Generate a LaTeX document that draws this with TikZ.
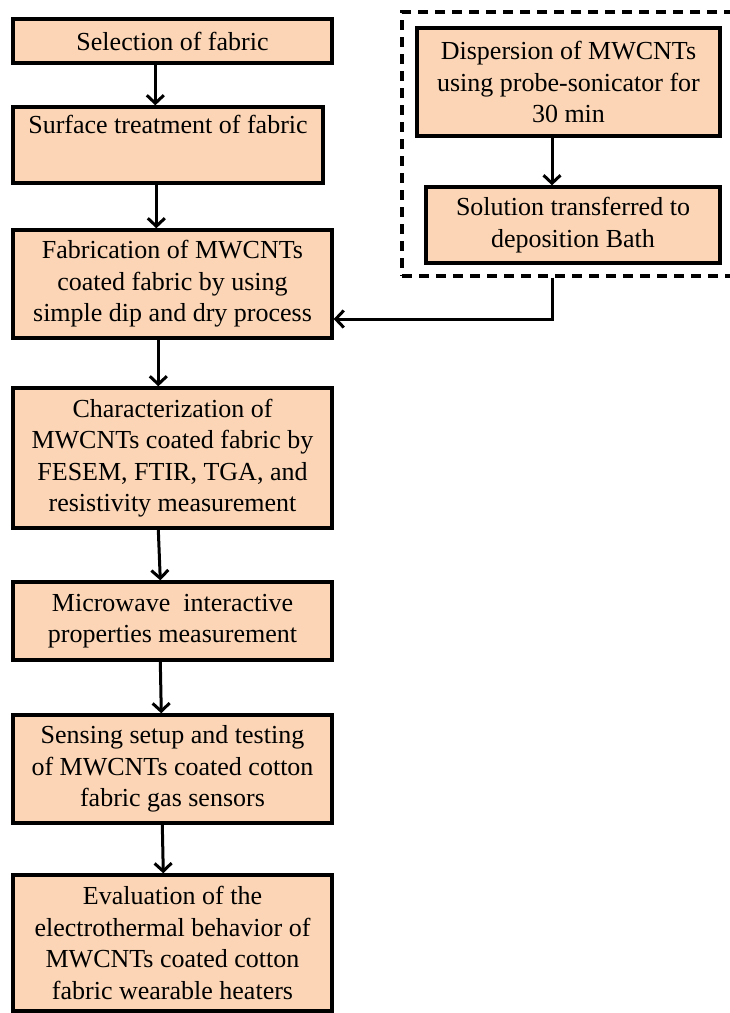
\documentclass[tikz,border=0pt]{standalone}
\usepackage{fontspec}
\setmainfont{Liberation Serif}
\usetikzlibrary{arrows.meta}
\definecolor{pesca}{HTML}{FBD5B5}
\tikzset{
  passo/.style={draw, line width=3.4pt, fill=pesca, align=center, inner sep=0pt,
    font=\fontsize{26}{31.5}\selectfont},
  freccia/.style={line width=3pt, -{Straight Barb[length=8pt,width=17pt]}},
  cornice/.style={draw, line width=3.2pt, dash pattern=on 10pt off 7pt},
}
\begin{document}
\begin{tikzpicture}[x=1pt,y=-1pt]
    \useasboundingbox (0,0) rectangle (730,1013);

    % Cornice tratteggiata della preparazione della soluzione
    \node[cornice, minimum width=340pt, minimum height=264pt] (cornice) at (572,144) {};

    % Colonna principale
    \node[passo, minimum width=319pt, minimum height=44pt] (s1) at (172.5,41) {Selection of fabric};
    \node[passo, minimum width=310pt, minimum height=76pt] (s2) at (168,145) {Surface treatment of fabric\\ \strut};
    \node[passo, minimum width=319pt, minimum height=108pt] (s3) at (172.5,284) {Fabrication of MWCNTs\\coated fabric by using\\simple dip and dry process};
    \node[passo, minimum width=319pt, minimum height=140pt] (s4) at (172.5,458) {Characterization of\\MWCNTs coated fabric by\\FESEM, FTIR, TGA, and\\resistivity measurement};
    \node[passo, minimum width=319pt, minimum height=78pt] (s5) at (172.5,621) {Microwave~ interactive\\properties measurement};
    \node[passo, minimum width=319pt, minimum height=108pt] (s6) at (172.5,769) {Sensing setup and testing\\of MWCNTs coated cotton\\fabric gas sensors};
    \node[passo, minimum width=319pt, minimum height=136pt] (s7) at (172.5,943) {Evaluation of the\\electrothermal behavior of\\MWCNTs coated cotton\\fabric wearable heaters};

    % Colonna di destra
    \node[passo, minimum width=303pt, minimum height=108pt] (r1) at (568.5,82) {Dispersion of MWCNTs\\using probe-sonicator for\\30 min};
    \node[passo, minimum width=294pt, minimum height=76pt] (r2) at (573,225) {Solution transferred to\\deposition Bath};

    % Frecce verticali
    \foreach \a/\b/\xa/\xb in {s1/s2/144/144, s2/s3/145/145, s3/s4/147/147, s4/s5/147/149, s5/s6/149/150, s6/s7/151/152}
        \draw[freccia] ([xshift=\xa pt]\a.south west) -- ([xshift=\xb pt]\b.north west);

    % Freccia tra i due passi di destra
    \coordinate (gomito) at (552,319);
    \draw[freccia] (r1.south -| gomito) -- (r2.north -| gomito);

    % Collegamento al bagno di deposizione
    \draw[freccia] (cornice.south -| gomito) -- (gomito) -- (s3.east |- gomito);
\end{tikzpicture}
\end{document}
